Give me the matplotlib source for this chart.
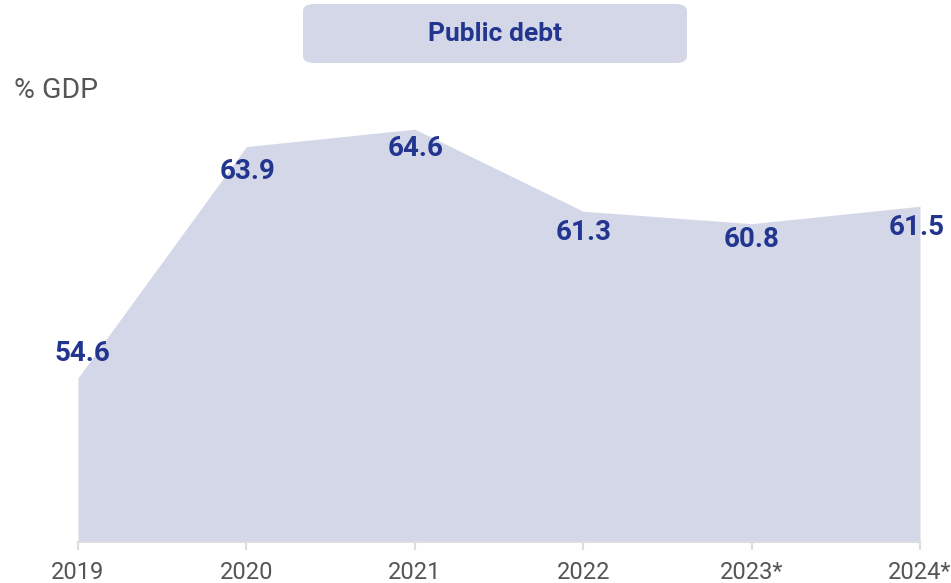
import matplotlib.pyplot as plt
from matplotlib.patches import FancyBboxPatch

# ===== Datos =====
years  = ["2019", "2020", "2021", "2022", "2023*", "2024*"]
debt   = [54.6, 63.9, 64.6, 61.3, 60.8, 61.5]
# desplazamiento de cada etiqueta (px) respecto al punto
lab_dx = [4, 1, 1, 0, 0, -3]
lab_dy = [24, -25, -19, -21, -16, -21]

fill_col = "#d4d7e8"
text_col = "#22368f"
grey     = "#555555"

plt.rcParams["font.family"] = ["Roboto", "DejaVu Sans"]

W, H = 951, 583
fig = plt.figure(figsize=(W/100, H/100), dpi=100)

# ejes en píxeles: x de 78 a 920, base en y=542
left, right, base, top = 78, 920, 542, 80
ax = fig.add_axes([left/W, (H-base)/H, (right-left)/W, (base-top)/H])
x = list(range(len(years)))
ymin = 48
ax.set_xlim(0, len(years)-1)
ax.set_ylim(ymin, ymin + (base-top)/24.87)
ax.fill_between(x, ymin, debt, color=fill_col, lw=0)
ax.axhline(ymin, color="#dddddd", lw=1.5, clip_on=False)

for xi, v, dx, dy in zip(x, debt, lab_dx, lab_dy):
    ax.annotate(f"{v:.1f}", (xi, v), xytext=(dx, dy), textcoords="offset pixels",
                ha="center", va="center", fontsize=20, fontweight="bold", color=text_col)

for s in ax.spines.values():
    s.set_visible(False)
ax.set_yticks([])
ax.set_xticks(x)
ax.set_xticklabels(years, fontsize=17, color=grey)
ax.tick_params(axis="x", length=6, width=1.5, color="#dddddd", pad=8)

# título en caja redondeada
box = FancyBboxPatch((303/W, 1-63/H), (687-303)/W, (63-4)/H,
                     boxstyle="round,pad=0,rounding_size=0.012",
                     transform=fig.transFigure, facecolor=fill_col, edgecolor="none")
fig.patches.append(box)
fig.text(495/W, 1-34/H, "Public debt", ha="center", va="center",
         fontsize=19, fontweight="bold", color=text_col)
fig.text(14/W, 1-90/H, "% GDP", ha="left", va="center", fontsize=20.5, color=grey)

fig.savefig("out.png", dpi=100)
